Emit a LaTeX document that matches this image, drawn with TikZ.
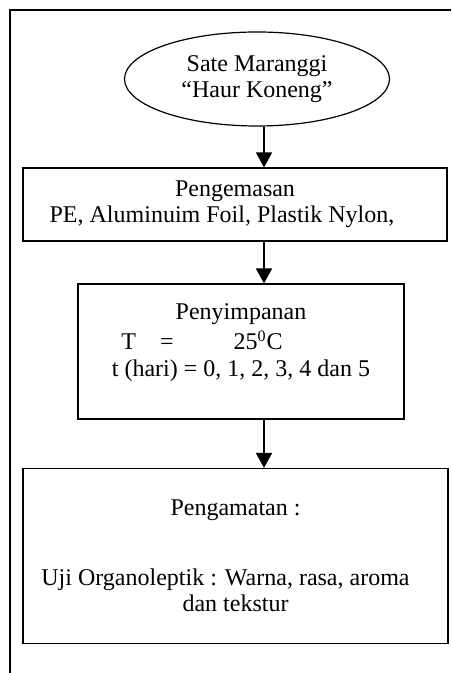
\documentclass[tikz,border=0pt]{standalone}
\usepackage{fontspec}
\setmainfont{Liberation Serif}
\usepackage{tikz}
\usetikzlibrary{arrows.meta,positioning,shapes.geometric}
\tikzset{
  txt/.style={font=\fontsize{12}{13}\selectfont,align=center,inner sep=2pt},
  startbox/.style={txt,draw,ellipse,line width=0.6pt,minimum width=#1},
  flowbox/.style={txt,draw,rectangle,line width=0.6pt,minimum width=#1},
  arr/.style={-{Triangle[length=7.5pt,width=8pt]},line width=0.9pt},
  frame/.style={line width=0.6pt},
}

\begin{document}
\begin{tikzpicture}[x=0.5pt,y=-0.5pt]
  \useasboundingbox (0,0) rectangle (451,673);
  \draw[frame] (10,673) -- (10,10) -- (451,10); % page frame, cut off right and bottom
  \coordinate (axis) at (264,0);
  \node[startbox=132.5pt,minimum height=47pt] (sate) at (257,79) {Sate Maranggi\\“Haur Koneng”};
  \node[flowbox=212pt,minimum height=36.5pt] (kemas) at (235,204.5) {Pengemasan\\PE, Aluminuim Foil, Plastik Nylon,\hspace*{13pt}\mbox{}};
  \node[flowbox=163pt,minimum height=67.5pt] (simpan) at (241,351.5)
    {Penyimpanan\\[2pt]T\hspace{12pt}=\hspace{30pt}25\textsuperscript{0}C\hspace*{39pt}\mbox{}\\[0.5pt]t (hari) = 0, 1, 2, 3, 4 dan 5\\[-2pt]\mbox{}};
  \node[flowbox=212.5pt,minimum height=87.5pt] (amat) at (235.5,556)
    {Pengamatan :\\[22pt]Uji Organoleptik : Warna, rasa, aroma\hspace*{10pt}\mbox{}\\dan tekstur};
  \draw[arr] (sate.south -| axis) -- (kemas.north -| axis);
  \draw[arr] (kemas.south -| axis) -- (simpan.north -| axis);
  \draw[arr] (simpan.south -| axis) -- (amat.north -| axis);
\end{tikzpicture}
\end{document}
